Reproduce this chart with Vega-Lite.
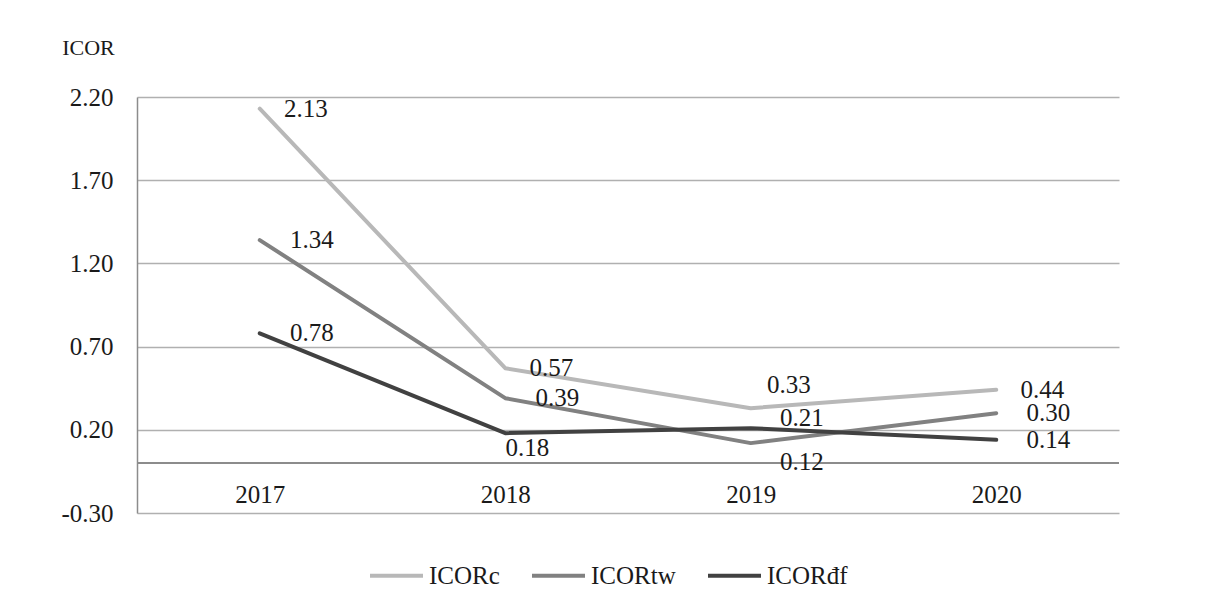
{
  "$schema": "https://vega.github.io/schema/vega-lite/v6.json",
  "autosize": "none",
  "width": 982,
  "height": 416,
  "padding": {"left": 137, "top": 97, "right": 87, "bottom": 95},
  "background": "white",
  "config": {
    "font": "Liberation Serif, Times New Roman, serif",
    "view": {"stroke": null},
    "text": {"font": "Liberation Serif, Times New Roman, serif"},
    "axis": {"labelFont": "Liberation Serif, Times New Roman, serif", "titleFont": "Liberation Serif, Times New Roman, serif", "labelColor": "#1a1a1a", "titleColor": "#1a1a1a"},
    "legend": {"labelFont": "Liberation Serif, Times New Roman, serif"}
  },
  "data": {
    "values": [
      {"year": "2017", "series": "ICORc", "value": 2.13},
      {"year": "2018", "series": "ICORc", "value": 0.57},
      {"year": "2019", "series": "ICORc", "value": 0.33},
      {"year": "2020", "series": "ICORc", "value": 0.44},
      {"year": "2017", "series": "ICORtw", "value": 1.34},
      {"year": "2018", "series": "ICORtw", "value": 0.39},
      {"year": "2019", "series": "ICORtw", "value": 0.12},
      {"year": "2020", "series": "ICORtw", "value": 0.30},
      {"year": "2017", "series": "ICORđf", "value": 0.78},
      {"year": "2018", "series": "ICORđf", "value": 0.18},
      {"year": "2019", "series": "ICORđf", "value": 0.21},
      {"year": "2020", "series": "ICORđf", "value": 0.14}
    ]
  },
  "encoding": {
    "x": {
      "field": "year", "type": "ordinal",
      "scale": {"type": "point", "padding": 0.5},
      "axis": {"title": null, "labelAngle": 0, "labelFontSize": 25, "ticks": false, "tickSize": 0, "domain": false, "labelPadding": -31, "grid": false}
    },
    "y": {
      "field": "value", "type": "quantitative",
      "scale": {"domain": [-0.3, 2.2], "nice": false, "zero": false},
      "axis": {
        "title": "ICOR", "titleAngle": 0, "titleFontSize": 22, "titleFontWeight": "normal",
        "titleAlign": "center", "titleBaseline": "middle", "titleX": -49, "titleY": -50,
        "values": [-0.3, 0.2, 0.7, 1.2, 1.7, 2.2],
        "labelExpr": "datum.value < 0 ? '-' + format(-datum.value, '.2f') : format(datum.value, '.2f')",
        "labelFontSize": 25, "labelPadding": 24, "ticks": false, "tickSize": 0,
        "grid": true, "gridColor": "#b0b0b0", "gridWidth": 1.5,
        "domain": true, "domainColor": "#8c8c8c", "domainWidth": 1.5
      }
    }
  },
  "layer": [
    {
      "data": {"values": [{"z": 0}]},
      "mark": {"type": "rule", "color": "#8c8c8c", "strokeWidth": 2},
      "encoding": {"y": {"field": "z", "type": "quantitative"}, "x": null}
    },
    {
      "mark": {"type": "line", "strokeWidth": 4, "strokeCap": "round", "strokeJoin": "round"},
      "encoding": {
        "color": {
          "field": "series", "type": "nominal",
          "scale": {"domain": ["ICORc", "ICORtw", "ICORđf"], "range": ["#b8b8b8", "#818181", "#414141"]},
          "legend": {
            "title": null, "orient": "none", "direction": "horizontal", "legendX": 231, "legendY": 450,
            "symbolType": "stroke", "symbolSize": 2809, "symbolStrokeWidth": 4,
            "labelFont": "Liberation Serif, Times New Roman, serif", "labelFontSize": 25, "labelColor": "#1a1a1a",
            "labelOffset": 4, "columnPadding": 24, "padding": 0
          }
        }
      }
    },
    {
      "transform": [{"filter": "(datum.year=='2017' && datum.series=='ICORc') || (datum.year=='2018' && datum.series=='ICORc') || (datum.year=='2020' && datum.series=='ICORc')"}],
      "mark": {"type": "text", "fontSize": 25, "color": "#1a1a1a", "dx": 46, "dy": 0, "align": "center", "baseline": "middle"},
      "encoding": {"text": {"field": "value", "type": "quantitative", "format": ".2f"}}
    },
    {
      "transform": [{"filter": "(datum.year=='2017' && datum.series!='ICORc') || (datum.year=='2018' && datum.series=='ICORtw') || (datum.year=='2020' && datum.series!='ICORc')"}],
      "mark": {"type": "text", "fontSize": 25, "color": "#1a1a1a", "dx": 52, "dy": 0, "align": "center", "baseline": "middle"},
      "encoding": {"text": {"field": "value", "type": "quantitative", "format": ".2f"}}
    },
    {
      "transform": [{"filter": "datum.year=='2018' && datum.series=='ICORđf'"}],
      "mark": {"type": "text", "fontSize": 25, "color": "#1a1a1a", "dx": 22, "dy": 15, "align": "center", "baseline": "middle"},
      "encoding": {"text": {"field": "value", "type": "quantitative", "format": ".2f"}}
    },
    {
      "transform": [{"filter": "datum.year=='2019' && datum.series=='ICORc'"}],
      "mark": {"type": "text", "fontSize": 25, "color": "#1a1a1a", "dx": 38, "dy": -23, "align": "center", "baseline": "middle"},
      "encoding": {"text": {"field": "value", "type": "quantitative", "format": ".2f"}}
    },
    {
      "transform": [{"filter": "datum.year=='2019' && datum.series=='ICORđf'"}],
      "mark": {"type": "text", "fontSize": 25, "color": "#1a1a1a", "dx": 51, "dy": -10, "align": "center", "baseline": "middle"},
      "encoding": {"text": {"field": "value", "type": "quantitative", "format": ".2f"}}
    },
    {
      "transform": [{"filter": "datum.year=='2019' && datum.series=='ICORtw'"}],
      "mark": {"type": "text", "fontSize": 25, "color": "#1a1a1a", "dx": 51, "dy": 19, "align": "center", "baseline": "middle"},
      "encoding": {"text": {"field": "value", "type": "quantitative", "format": ".2f"}}
    }
  ]
}
